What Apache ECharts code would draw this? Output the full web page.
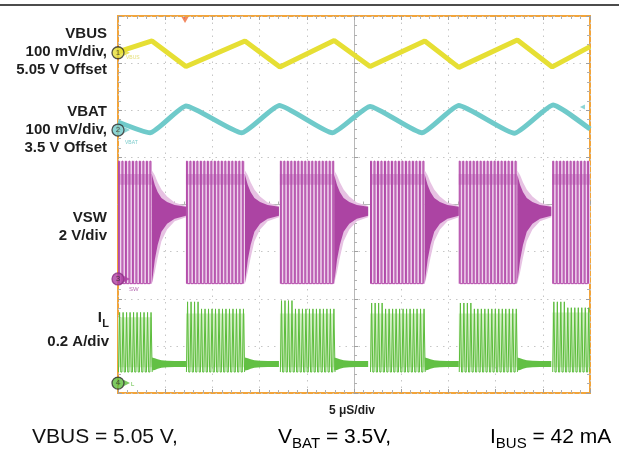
<!DOCTYPE html>
<html>
<head>
<meta charset="utf-8">
<title>Burst mode switching waveforms</title>
<script src="https://cdn.jsdelivr.net/npm/echarts/dist/echarts.min.js"></script>
<style>
  html, body { width: 100%; height: 100%; margin: 0; padding: 0; background: #fff; }
  #main { width: 619px; height: 451px; }
</style>
</head>
<body>
<div id="main"></div>
<script>
  // scope screen: 10 x 8 divisions, 5 us/div
  var usPerDiv = 5;
  var chRef = [7.22, 5.58, 2.42, 0.21];   // channel marker position (div)
  var chScale = [0.1, 0.1, 2, 0.2];       // V/div or A/div
  var chOffset = [5.05, 3.5, 0, 0];
  var chColor = ['#e6df34', '#6fcaca', '#ac3fa3', '#5cbd3c'];

  // switching bursts (us)
  var burstStart = [0, 7.2, 17.15, 26.7, 36.1, 46.0];
  var burstEnd = [3.6, 13.45, 22.9, 32.5, 42.3, 50];

  // VBUS ripple corners
  var vbusTime = [0, 3.6, 7.2, 13.45, 17.15, 22.9, 26.7, 32.5, 36.1, 42.3, 46.0, 50];
  var vbusVolt = [5.052, 5.075, 5.021, 5.075, 5.020, 5.076, 5.021, 5.075, 5.019, 5.077, 5.020, 5.063];

  // VBAT ripple corners
  var vbatTime = [0, 3.4, 7.2, 13.1, 17.1, 22.7, 26.7, 32.2, 36.1, 42.0, 46.1, 50];
  var vbatVolt = [3.517, 3.494, 3.551, 3.494, 3.552, 3.494, 3.550, 3.494, 3.552, 3.493, 3.553, 3.502];

  // VSW levels
  var swHigh = 5.0, swLow = -0.2, swBandTop = 4.45, swBandBot = 4.0;
  var swPeriod = 0.37, swOn = 0.1;
  // ringing after each burst: time after burst end (us), upper / lower envelope (V)
  var ringDt = [0, 0.3, 0.6, 1.0, 1.6, 2.4, 3.6];
  var ringTop = [4.42, 3.99, 3.69, 3.44, 3.27, 3.14, 3.06];
  var ringBot = [-0.17, 0.81, 1.44, 2.0, 2.34, 2.55, 2.68];
  var ghostTop = [4.6, 4.4, 4.1, 3.8, 3.5, 3.25, 3.1];
  var ghostBot = [-0.2, 0.3, 0.9, 1.6, 2.1, 2.45, 2.62];

  // inductor current (A)
  var ilLow = 0.047;
  var ilPeakHead = [0.30, 0.345, 0.35, 0.34, 0.34, 0.345];
  var ilPeakTail = [0.30, 0.315, 0.315, 0.315, 0.315, 0.32];
  var ilHeadPulses = 4;
  var ilIdle = 0.081;
  var ilIdleHalf = [0.028, 0.025, 0.02, 0.016, 0.014, 0.013, 0.013];

  function toDiv(ch, v) { return chRef[ch] + (v - chOffset[ch]) / chScale[ch]; }

  var myChart = echarts.init(document.getElementById('main'));

  var burstData = burstStart.map(function (s, i) { return [s, burstEnd[i], 0]; });
  var gapData = [];
  for (var g = 0; g < burstEnd.length - 1; g++) gapData.push([burstEnd[g], burstStart[g + 1], 0]);

  function swBurst(params, api) {
    var i = params.dataIndex;
    var s = burstStart[i], e = burstEnd[i];
    var lo = toDiv(2, swLow), hi = toDiv(2, swHigh);
    var pts = [];
    for (var t = s + 0.05; t < e - 0.05; t += swPeriod) {
      pts.push(api.coord([t, lo]), api.coord([t, hi]), api.coord([t + swOn, hi]), api.coord([t + swOn, lo]));
    }
    var a = api.coord([s, hi]), b = api.coord([e, lo]);
    var bt = api.coord([s, toDiv(2, swBandTop)]), bb = api.coord([e, toDiv(2, swBandBot)]);
    return {
      type: 'group',
      children: [
        { type: 'rect', shape: { x: a[0], y: a[1], width: b[0] - a[0], height: b[1] - a[1] }, style: { fill: '#f0d6ee' } },
        { type: 'rect', shape: { x: bt[0], y: bt[1], width: bb[0] - bt[0], height: bb[1] - bt[1] }, style: { fill: '#b04aa8', opacity: 0.35 } },
        { type: 'polyline', shape: { points: pts }, style: { stroke: '#b148a8', lineWidth: 1, fill: null } }
      ]
    };
  }

  function swRing(params, api) {
    var t0 = api.value(0), t1 = api.value(1);
    var up = [], dn = [], gu = [], gd = [];
    for (var k = 0; k < ringDt.length; k++) {
      var t = Math.min(t0 + ringDt[k], t1);
      up.push(api.coord([t, toDiv(2, ringTop[k])]));
      dn.unshift(api.coord([t, toDiv(2, ringBot[k])]));
      gu.push(api.coord([t, toDiv(2, ghostTop[k])]));
      gd.unshift(api.coord([t, toDiv(2, ghostBot[k])]));
    }
    return {
      type: 'group',
      children: [
        { type: 'polygon', shape: { points: gu.concat(gd) }, style: { fill: '#e7c2e3' } },
        { type: 'polygon', shape: { points: up.concat(dn) }, style: { fill: '#ac44a3' } }
      ]
    };
  }

  function ilBurst(params, api) {
    var i = params.dataIndex;
    var s = burstStart[i], e = burstEnd[i];
    var lo = toDiv(3, ilLow);
    var n = 0, pts = [];
    for (var t = s + 0.05; t < e - 0.05; t += swPeriod) {
      var pk = (i > 0 && n < ilHeadPulses) ? ilPeakHead[i] : ilPeakTail[i];
      pts.push(api.coord([t, lo]), api.coord([t + 0.12, toDiv(3, pk)]), api.coord([t + 0.24, lo]));
      n++;
    }
    var a = api.coord([s, toDiv(3, ilPeakTail[i] - 0.02)]), b = api.coord([e, toDiv(3, ilLow + 0.02)]);
    return {
      type: 'group',
      children: [
        { type: 'rect', shape: { x: a[0], y: a[1], width: b[0] - a[0], height: b[1] - a[1] }, style: { fill: '#d4efc6' } },
        { type: 'polyline', shape: { points: pts }, style: { stroke: '#5cbd3c', lineWidth: 1, fill: null } }
      ]
    };
  }

  function ilGap(params, api) {
    var t0 = api.value(0), t1 = api.value(1);
    var up = [], dn = [];
    for (var k = 0; k < ringDt.length; k++) {
      var t = Math.min(t0 + ringDt[k], t1);
      up.push(api.coord([t, toDiv(3, ilIdle + ilIdleHalf[k])]));
      dn.unshift(api.coord([t, toDiv(3, ilIdle - ilIdleHalf[k])]));
    }
    return { type: 'polygon', shape: { points: up.concat(dn) }, style: { fill: '#62c044' } };
  }

  var tickStyle = { show: true, inside: true, length: 4, lineStyle: { color: '#a0a0a0' } };
  var minorStyle = { show: true, splitNumber: 5, length: 3, lineStyle: { color: '#b0b0b0' } };
  var gridDots = { show: true, lineStyle: { color: '#c6c6c6', type: [1.5, 5] } };

  var markerData = [0, 1, 2, 3].map(function (c) {
    return {
      value: [0, chRef[c]],
      itemStyle: { color: chColor[c], borderColor: c === 2 ? '#8a2d82' : '#2a2a2a', borderWidth: 1.3 },
      label: { show: true, position: 'inside', formatter: String(c + 1), fontSize: 8, color: '#333' }
    };
  });
  var arrowData = [0, 1, 2, 3].map(function (c) {
    return { value: [0, chRef[c]], itemStyle: { color: chColor[c] } };
  });

  var labelFont = 'bold 15px "Liberation Sans", Arial';
  function leftLabel(txt, x, y) {
    return { type: 'text', x: x, y: y, style: { text: txt, font: labelFont, fill: '#1e1e1e', align: 'right', verticalAlign: 'middle' } };
  }

  myChart.setOption({
    backgroundColor: '#fff',
    animation: false,
    grid: { left: 118, top: 16, width: 472, height: 377, show: true, borderColor: '#f2a43a', borderWidth: 2, backgroundColor: 'transparent' },
    xAxis: [
      { type: 'value', min: 0, max: 10 * usPerDiv, interval: usPerDiv, position: 'bottom',
        axisLine: { show: false, onZero: false }, axisTick: tickStyle, minorTick: minorStyle, axisLabel: { show: false }, splitLine: gridDots },
      { type: 'value', min: 0, max: 10 * usPerDiv, interval: usPerDiv, position: 'top',
        axisLine: { show: false, onZero: false }, axisTick: tickStyle, minorTick: minorStyle, axisLabel: { show: false }, splitLine: { show: false } },
      { type: 'value', min: 0, max: 10 * usPerDiv, interval: usPerDiv, position: 'bottom', offset: -188.5,
        axisLine: { show: true, onZero: false, lineStyle: { color: '#b8b8b8', width: 1 } }, axisTick: tickStyle, minorTick: minorStyle, axisLabel: { show: false }, splitLine: { show: false } }
    ],
    yAxis: [
      { type: 'value', min: 0, max: 8, interval: 1, position: 'left',
        axisLine: { show: false, onZero: false }, axisTick: tickStyle, minorTick: minorStyle, axisLabel: { show: false }, splitLine: gridDots },
      { type: 'value', min: 0, max: 8, interval: 1, position: 'right',
        axisLine: { show: false, onZero: false }, axisTick: tickStyle, minorTick: minorStyle, axisLabel: { show: false }, splitLine: { show: false } },
      { type: 'value', min: 0, max: 8, interval: 1, position: 'left', offset: -236,
        axisLine: { show: true, onZero: false, lineStyle: { color: '#b8b8b8', width: 1 } }, axisTick: tickStyle, minorTick: minorStyle, axisLabel: { show: false }, splitLine: { show: false } }
    ],
    series: [
      { type: 'custom', name: 'VSW', renderItem: swBurst, data: burstData, encode: { x: [0, 1], y: 2 }, clip: true, z: 3 },
      { type: 'custom', name: 'VSW ring', renderItem: swRing, data: gapData, encode: { x: [0, 1], y: 2 }, clip: true, z: 3 },
      { type: 'custom', name: 'IL', renderItem: ilBurst, data: burstData, encode: { x: [0, 1], y: 2 }, clip: true, z: 3 },
      { type: 'custom', name: 'IL idle', renderItem: ilGap, data: gapData, encode: { x: [0, 1], y: 2 }, clip: true, z: 3 },
      { type: 'line', name: 'VBUS', data: vbusTime.map(function (t, i) { return [t, toDiv(0, vbusVolt[i])]; }),
        symbol: 'none', lineStyle: { color: chColor[0], width: 5 }, z: 4 },
      { type: 'line', name: 'VBAT', data: vbatTime.map(function (t, i) { return [t, toDiv(1, vbatVolt[i])]; }),
        symbol: 'none', smooth: 0.15, lineStyle: { color: chColor[1], width: 5 }, z: 4 },
      { type: 'scatter', name: 'arrows', data: arrowData, symbol: 'triangle', symbolRotate: -90, symbolSize: [6, 6],
        symbolOffset: [9, 0], clip: false, z: 9, silent: true },
      { type: 'scatter', name: 'markers', data: markerData, symbol: 'circle', symbolSize: 12, clip: false, z: 10, silent: true },
      { type: 'scatter', name: 'trigger', data: [[7.1, 8]], symbol: 'triangle', symbolRotate: 180, symbolSize: [7, 6],
        symbolOffset: [0, 4], itemStyle: { color: '#ef6a38' }, clip: false, z: 10, silent: true },
      { type: 'scatter', name: 'level', data: [[49.2, 6.07]], symbol: 'triangle', symbolRotate: 90, symbolSize: [5, 5],
        itemStyle: { color: chColor[1] }, clip: false, z: 10, silent: true }
    ],
    graphic: [
      { type: 'line', shape: { x1: 0, y1: 5, x2: 619, y2: 5 }, style: { stroke: '#111', lineWidth: 1.5 } },
      leftLabel('VBUS', 107, 34),
      leftLabel('100 mV/div,', 107, 52),
      leftLabel('5.05 V Offset', 107, 70),
      leftLabel('VBAT', 107, 112),
      leftLabel('100 mV/div,', 107, 130),
      leftLabel('3.5 V Offset', 107, 148),
      leftLabel('VSW', 107, 218),
      leftLabel('2 V/div', 107, 236),
      leftLabel('I', 102, 318),
      { type: 'text', x: 109, y: 324, style: { text: 'L', font: 'bold 11px "Liberation Sans", Arial', fill: '#1e1e1e', align: 'right', verticalAlign: 'middle' } },
      leftLabel('0.2 A/div', 109, 342),
      { type: 'text', x: 126, y: 58, style: { text: 'VBUS', font: '5px "Liberation Sans"', fill: '#e6e07a', verticalAlign: 'middle' } },
      { type: 'text', x: 125, y: 143, style: { text: 'VBAT', font: '5px "Liberation Sans"', fill: '#7ccccc', verticalAlign: 'middle' } },
      { type: 'text', x: 129, y: 289, style: { text: 'SW', font: '6px "Liberation Sans"', fill: '#b56ab0', verticalAlign: 'middle' } },
      { type: 'text', x: 131, y: 384, style: { text: 'L', font: '6px "Liberation Sans"', fill: '#5cbd3c', verticalAlign: 'middle' } },
      { type: 'text', x: 352, y: 411, style: { text: '5 \u03bcS/div', font: 'bold 12px "Liberation Sans", Arial', fill: '#1e1e1e', align: 'center', verticalAlign: 'middle' } },
      { type: 'text', x: 32, y: 437, style: { text: 'VBUS = 5.05 V,', font: '21px "Liberation Sans", Arial', fill: '#111', verticalAlign: 'middle' } },
      { type: 'text', x: 278, y: 437, style: {
          text: '{a|V}{s|BAT}{a| = 3.5V,}', verticalAlign: 'middle',
          rich: { a: { fontSize: 21, fontFamily: 'Liberation Sans', color: '#111', lineHeight: 28, verticalAlign: 'middle' },
                  s: { fontSize: 15, fontFamily: 'Liberation Sans', color: '#111', lineHeight: 28, verticalAlign: 'bottom' } } } },
      { type: 'text', x: 490, y: 437, style: {
          text: '{a|I}{s|BUS}{a| = 42 mA}', verticalAlign: 'middle',
          rich: { a: { fontSize: 21, fontFamily: 'Liberation Sans', color: '#111', lineHeight: 28, verticalAlign: 'middle' },
                  s: { fontSize: 15, fontFamily: 'Liberation Sans', color: '#111', lineHeight: 28, verticalAlign: 'bottom' } } } }
    ]
  });

  window.addEventListener('resize', function () {
    myChart.resize();
  });
</script>
</body>
</html>
